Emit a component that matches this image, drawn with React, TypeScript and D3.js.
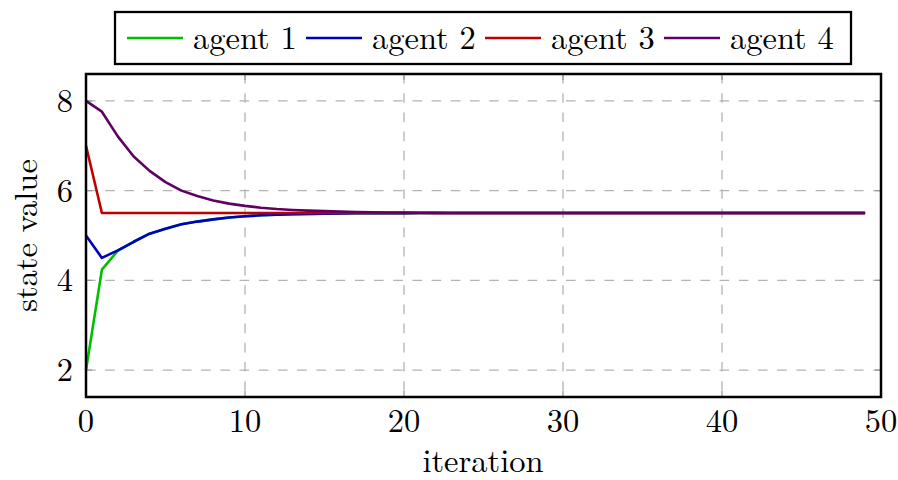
import React from "react";
import * as d3 from "d3";

const iterations: number[] = d3.range(0, 50);
const xTicks = [0, 10, 20, 30, 40, 50];
const yTicks = [2, 4, 6, 8];

const agent1 = [
  2, 4.24, 4.66, 4.86, 5.04, 5.15, 5.25, 5.31, 5.36, 5.4,
  5.43, 5.45, 5.465, 5.475, 5.483, 5.488, 5.492, 5.495, 5.497, 5.498,
  5.499, 5.5, 5.5, 5.5, 5.5, 5.5, 5.5, 5.5, 5.5, 5.5,
  5.5, 5.5, 5.5, 5.5, 5.5, 5.5, 5.5, 5.5, 5.5, 5.5,
  5.5, 5.5, 5.5, 5.5, 5.5, 5.5, 5.5, 5.5, 5.5, 5.5,
];
const agent2 = [
  5, 4.5, 4.67, 4.86, 5.04, 5.15, 5.25, 5.31, 5.36, 5.4,
  5.43, 5.45, 5.465, 5.475, 5.483, 5.488, 5.492, 5.495, 5.497, 5.498,
  5.499, 5.5, 5.5, 5.5, 5.5, 5.5, 5.5, 5.5, 5.5, 5.5,
  5.5, 5.5, 5.5, 5.5, 5.5, 5.5, 5.5, 5.5, 5.5, 5.5,
  5.5, 5.5, 5.5, 5.5, 5.5, 5.5, 5.5, 5.5, 5.5, 5.5,
];
const agent3 = [
  7, 5.5, 5.5, 5.5, 5.5, 5.5, 5.5, 5.5, 5.5, 5.5,
  5.5, 5.5, 5.5, 5.5, 5.5, 5.5, 5.5, 5.5, 5.5, 5.5,
  5.5, 5.5, 5.5, 5.5, 5.5, 5.5, 5.5, 5.5, 5.5, 5.5,
  5.5, 5.5, 5.5, 5.5, 5.5, 5.5, 5.5, 5.5, 5.5, 5.5,
  5.5, 5.5, 5.5, 5.5, 5.5, 5.5, 5.5, 5.5, 5.5, 5.5,
];
const agent4 = [
  8, 7.76, 7.21, 6.76, 6.44, 6.19, 6.0, 5.88, 5.78, 5.71,
  5.66, 5.62, 5.59, 5.57, 5.555, 5.543, 5.533, 5.525, 5.518, 5.513,
  5.509, 5.506, 5.504, 5.503, 5.502, 5.501, 5.5, 5.5, 5.5, 5.5,
  5.5, 5.5, 5.5, 5.5, 5.5, 5.5, 5.5, 5.5, 5.5, 5.5,
  5.5, 5.5, 5.5, 5.5, 5.5, 5.5, 5.5, 5.5, 5.5, 5.5,
];

const seriesNames = ["agent 1", "agent 2", "agent 3", "agent 4"];
const seriesValues = [agent1, agent2, agent3, agent4];
const seriesColors = ["#00bf00", "#0000c0", "#bf0000", "#600060"];

const W = 898;
const H = 480;
const L = 86;
const R = 881;
const T = 74;
const B = 397;
const FONT = "'Latin Modern Roman', 'Liberation Serif', serif";
const FS = 32.5;

export default function App() {
  const x = d3.scaleLinear().domain([0, 50]).range([L, R]);
  const y = d3.scaleLinear().domain([1.4, 8.6]).range([B, T]);
  const line = d3
    .line<number>()
    .x((_, i) => x(iterations[i]))
    .y((d) => y(d));

  const legendItems = [
    { lx: 127, tx: 193 },
    { lx: 306, tx: 372 },
    { lx: 485, tx: 551 },
    { lx: 664, tx: 730 },
  ];
  const tickLen = 6;

  return (
    <svg
      width={W}
      height={H}
      style={{ position: "absolute", left: 0, top: 0, background: "#fff" }}
    >
      <rect x={0} y={0} width={W} height={H} fill="#fff" />
      {/* grid */}
      {xTicks.map((t) => (
        <line
          key={"gx" + t}
          x1={x(t)}
          x2={x(t)}
          y1={T}
          y2={B}
          stroke="#b3b3b3"
          strokeWidth={1.3}
          strokeDasharray="9.6 9.6"
        />
      ))}
      {yTicks.map((t) => (
        <line
          key={"gy" + t}
          x1={L}
          x2={R}
          y1={y(t)}
          y2={y(t)}
          stroke="#b3b3b3"
          strokeWidth={1.3}
          strokeDasharray="9.6 9.6"
        />
      ))}
      {/* ticks */}
      {xTicks.map((t) => (
        <g key={"tx" + t} stroke="#999" strokeWidth={1.3}>
          <line x1={x(t)} x2={x(t)} y1={B} y2={B - tickLen} />
          <line x1={x(t)} x2={x(t)} y1={T} y2={T + tickLen} />
        </g>
      ))}
      {yTicks.map((t) => (
        <g key={"ty" + t} stroke="#999" strokeWidth={1.3}>
          <line x1={L} x2={L + tickLen} y1={y(t)} y2={y(t)} />
          <line x1={R} x2={R - tickLen} y1={y(t)} y2={y(t)} />
        </g>
      ))}
      {/* series */}
      {seriesValues.map((vals, i) => (
        <path
          key={seriesNames[i]}
          d={line(vals) || ""}
          fill="none"
          stroke={seriesColors[i]}
          strokeWidth={2.6}
          strokeLinejoin="round"
        />
      ))}
      {/* frame */}
      <rect
        x={L}
        y={T}
        width={R - L}
        height={B - T}
        fill="none"
        stroke="#000"
        strokeWidth={2.5}
      />
      {/* tick labels */}
      {xTicks.map((t) => (
        <text
          key={"lx" + t}
          x={x(t)}
          y={432}
          textAnchor="middle"
          fontSize={FS}
          fontFamily={FONT}
          fill="#000"
        >
          {t}
        </text>
      ))}
      {yTicks.map((t) => (
        <text
          key={"ly" + t}
          x={73}
          y={y(t) + 11}
          textAnchor="end"
          fontSize={FS}
          fontFamily={FONT}
          fill="#000"
        >
          {t}
        </text>
      ))}
      {/* axis labels */}
      <text
        x={483}
        y={472}
        textAnchor="middle"
        fontSize={FS}
        fontFamily={FONT}
        fill="#000"
      >
        iteration
      </text>
      <text
        transform={`translate(37, ${(T + B) / 2}) rotate(-90)`}
        textAnchor="middle"
        fontSize={FS}
        fontFamily={FONT}
        fill="#000"
      >
        state value
      </text>
      {/* legend */}
      <rect
        x={115}
        y={12}
        width={736}
        height={52}
        fill="#fff"
        stroke="#000"
        strokeWidth={2.3}
      />
      {seriesNames.map((name, i) => (
        <g key={"leg" + name}>
          <line
            x1={legendItems[i].lx}
            x2={legendItems[i].lx + 56}
            y1={38}
            y2={38}
            stroke={seriesColors[i]}
            strokeWidth={2.6}
          />
          <text
            x={legendItems[i].tx}
            y={49}
            fontSize={FS}
            fontFamily={FONT}
            fill="#000"
          >
            {name}
          </text>
        </g>
      ))}
    </svg>
  );
}
